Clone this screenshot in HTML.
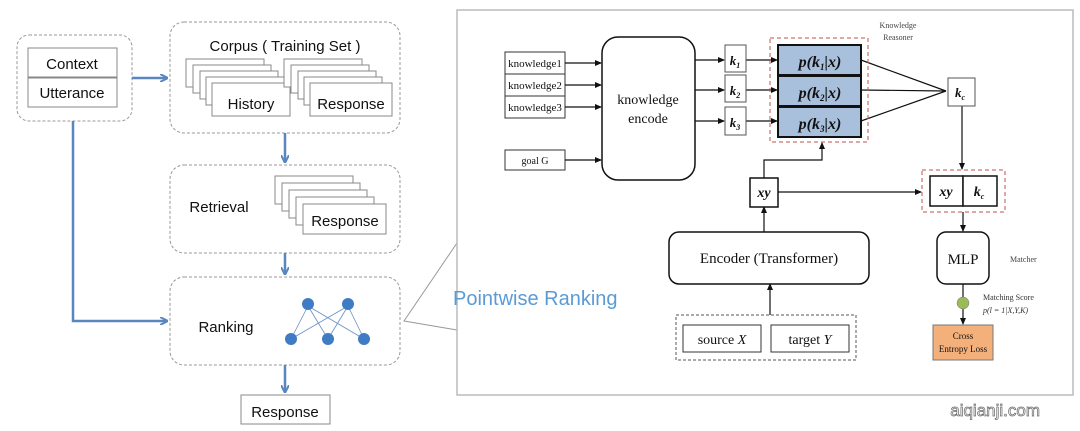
<!DOCTYPE html><html><head><meta charset="utf-8"><style>body{margin:0;background:#fff}svg{display:block}</style></head><body>
<svg width="1080" height="431" viewBox="0 0 1080 431" xmlns="http://www.w3.org/2000/svg" font-family="Liberation Sans, sans-serif">
<defs>
<marker id="ab" markerWidth="8" markerHeight="8" refX="7" refY="4" orient="auto" markerUnits="userSpaceOnUse"><path d="M0,0 L8,4 L0,8" fill="none" stroke="#5a86c0" stroke-width="2"/></marker>
<marker id="ak" markerWidth="7" markerHeight="6" refX="6" refY="3" orient="auto" markerUnits="userSpaceOnUse"><path d="M0,0 L7,3 L0,6z" fill="#111"/></marker>
</defs>
<g fill="none" stroke="#999" stroke-dasharray="3,2">
<rect x="17" y="35" width="115" height="86" rx="12"/>
<rect x="170" y="22" width="230" height="111" rx="14"/>
<rect x="170" y="165" width="230" height="88" rx="14"/>
<rect x="170" y="277" width="230" height="88" rx="14"/>
</g>
<g stroke="#888" fill="#fff" stroke-width="1">
<rect x="28" y="48" width="89" height="29"/><rect x="28" y="78" width="89" height="29"/>
<rect x="186" y="59" width="78" height="28"/><rect x="193" y="65" width="78" height="28"/><rect x="200" y="71" width="78" height="28"/><rect x="206" y="77" width="78" height="28"/><rect x="212" y="83" width="78" height="33"/>
<rect x="284" y="59" width="78" height="28"/><rect x="291" y="65" width="78" height="28"/><rect x="298" y="71" width="78" height="28"/><rect x="304" y="77" width="78" height="28"/><rect x="310" y="83" width="82" height="33"/>
<rect x="275" y="176" width="78" height="28"/><rect x="282" y="183" width="78" height="28"/><rect x="289" y="190" width="78" height="28"/><rect x="296" y="197" width="78" height="28"/><rect x="303" y="204" width="83" height="30"/>
<rect x="241" y="395" width="89" height="29"/>
</g>
<g font-size="15" fill="#111" text-anchor="middle">
<text x="72" y="69">Context</text><text x="72" y="98">Utterance</text>
<text x="285" y="51">Corpus ( Training Set )</text>
<text x="251" y="109">History</text><text x="351" y="109">Response</text>
<text x="219" y="212">Retrieval</text><text x="345" y="226">Response</text>
<text x="226" y="332">Ranking</text><text x="285" y="417">Response</text>
</g>
<g stroke="#5a86c0" stroke-width="2.5" fill="none">
<line x1="132" y1="78" x2="167" y2="78" marker-end="url(#ab)"/>
<polyline points="73,121 73,321 167,321" marker-end="url(#ab)"/>
<line x1="285" y1="133" x2="285" y2="162" marker-end="url(#ab)"/>
<line x1="285" y1="253" x2="285" y2="274" marker-end="url(#ab)"/>
<line x1="285" y1="365" x2="285" y2="392" marker-end="url(#ab)"/>
</g>
<g stroke="#6a8fc2" stroke-width="0.8"><line x1="291" y1="339" x2="308" y2="306"/><line x1="291" y1="339" x2="348" y2="306"/><line x1="328" y1="339" x2="308" y2="306"/><line x1="328" y1="339" x2="348" y2="306"/><line x1="364" y1="339" x2="308" y2="306"/><line x1="364" y1="339" x2="348" y2="306"/></g>
<g fill="#3f7cc4"><circle cx="308" cy="304" r="6"/><circle cx="348" cy="304" r="6"/><circle cx="291" cy="339" r="6"/><circle cx="328" cy="339" r="6"/><circle cx="364" cy="339" r="6"/></g>
<polyline points="457,243 404,321 457,330" fill="none" stroke="#999"/>
<rect x="457" y="10" width="616" height="385" fill="#fff" stroke="#bbb" stroke-width="1.5"/>
<text x="453" y="305" font-size="20" fill="#5b9bd5">Pointwise Ranking</text>
<g font-family="Liberation Serif, serif" fill="#111">
<g stroke="#333" fill="#fff"><rect x="505" y="52" width="60" height="22"/><rect x="505" y="74" width="60" height="22"/><rect x="505" y="96" width="60" height="22"/><rect x="505" y="150" width="60" height="20"/></g>
<g font-size="11" text-anchor="middle"><text x="535" y="67">knowledge1</text><text x="535" y="89">knowledge2</text><text x="535" y="111">knowledge3</text><text x="535" y="164" font-size="10">goal G</text></g>
<rect x="602" y="37" width="93" height="143" rx="16" fill="#fff" stroke="#111" stroke-width="1.5"/>
<text x="648" y="104" font-size="14" text-anchor="middle">knowledge</text><text x="648" y="123" font-size="14" text-anchor="middle">encode</text>
<g stroke="#111" stroke-width="1.2" fill="none">
<line x1="565" y1="63" x2="601" y2="63" marker-end="url(#ak)"/><line x1="565" y1="85" x2="601" y2="85" marker-end="url(#ak)"/><line x1="565" y1="107" x2="601" y2="107" marker-end="url(#ak)"/><line x1="565" y1="160" x2="601" y2="160" marker-end="url(#ak)"/>
<line x1="695" y1="60" x2="724" y2="60" marker-end="url(#ak)"/><line x1="695" y1="90" x2="724" y2="90" marker-end="url(#ak)"/><line x1="695" y1="121" x2="724" y2="121" marker-end="url(#ak)"/>
<line x1="746" y1="60" x2="777" y2="60" marker-end="url(#ak)"/><line x1="746" y1="90" x2="777" y2="90" marker-end="url(#ak)"/><line x1="746" y1="121" x2="777" y2="121" marker-end="url(#ak)"/>
<line x1="861" y1="60" x2="946" y2="91"/><line x1="861" y1="90" x2="946" y2="91"/><line x1="861" y1="121" x2="946" y2="91"/>
<line x1="962" y1="105" x2="962" y2="169" marker-end="url(#ak)"/>
<polyline points="764,178 764,160 822,160 822,143" marker-end="url(#ak)"/>
<line x1="778" y1="192" x2="921" y2="192" marker-end="url(#ak)"/>
<line x1="764" y1="232" x2="764" y2="207" marker-end="url(#ak)"/>
<line x1="770" y1="315" x2="770" y2="284" marker-end="url(#ak)"/>
<line x1="963" y1="212" x2="963" y2="231" marker-end="url(#ak)"/>
<line x1="963" y1="284" x2="963" y2="324" marker-end="url(#ak)"/>
</g>
<g stroke="#555" fill="#fff"><rect x="725" y="45" width="21" height="27"/><rect x="725" y="75" width="21" height="27"/><rect x="725" y="107" width="21" height="28"/><rect x="948" y="78" width="27" height="28"/></g>
<g font-size="13" font-weight="bold" font-style="italic" text-anchor="middle"><text x="735" y="65">k<tspan font-size="8" dy="3">1</tspan></text><text x="735" y="95">k<tspan font-size="8" dy="3">2</tspan></text><text x="735" y="127">k<tspan font-size="8" dy="3">3</tspan></text><text x="960" y="97">k<tspan font-size="8" dy="3">c</tspan></text></g>
<rect x="770" y="38" width="98" height="104" fill="none" stroke="#c0504d" stroke-dasharray="4,3"/>
<g fill="#a9c0dd" stroke="#111" stroke-width="2"><rect x="778" y="45" width="83" height="30"/><rect x="778" y="76" width="83" height="30"/><rect x="778" y="107" width="83" height="30"/></g>
<g font-size="16" font-weight="bold" font-style="italic" text-anchor="middle"><text x="820" y="67">p(k<tspan font-size="9" dy="3">1</tspan><tspan dy="-3">|x)</tspan></text><text x="820" y="98">p(k<tspan font-size="9" dy="3">2</tspan><tspan dy="-3">|x)</tspan></text><text x="820" y="129">p(k<tspan font-size="9" dy="3">3</tspan><tspan dy="-3">|x)</tspan></text></g>
<text x="898" y="28" font-size="8" text-anchor="middle" fill="#444">Knowledge</text><text x="898" y="40" font-size="8" text-anchor="middle" fill="#444">Reasoner</text>
<rect x="922" y="170" width="83" height="42" fill="none" stroke="#c0504d" stroke-dasharray="4,3"/>
<g fill="#fff" stroke="#111" stroke-width="1.5"><rect x="930" y="176" width="33" height="30"/><rect x="963" y="176" width="34" height="30"/><rect x="750" y="178" width="28" height="29"/></g>
<g font-size="14" font-weight="bold" font-style="italic" text-anchor="middle"><text x="946" y="196">xy</text><text x="979" y="196">k<tspan font-size="8" dy="3">c</tspan></text><text x="764" y="197">xy</text></g>
<rect x="669" y="232" width="200" height="52" rx="10" fill="#fff" stroke="#111" stroke-width="1.5"/>
<text x="769" y="263" font-size="15" text-anchor="middle">Encoder (Transformer)</text>
<rect x="676" y="315" width="180" height="45" fill="none" stroke="#555" stroke-dasharray="3,2"/>
<g fill="#fff" stroke="#333"><rect x="683" y="325" width="78" height="27"/><rect x="771" y="325" width="78" height="27"/></g>
<text x="722" y="344" font-size="14" text-anchor="middle">source <tspan font-style="italic">X</tspan></text><text x="810" y="344" font-size="14" text-anchor="middle">target <tspan font-style="italic">Y</tspan></text>
<rect x="937" y="232" width="52" height="52" rx="9" fill="#fff" stroke="#111" stroke-width="1.5"/>
<text x="963" y="264" font-size="15" text-anchor="middle">MLP</text>
<text x="1010" y="262" font-size="8" fill="#444">Matcher</text>
<circle cx="963" cy="303" r="6" fill="#9bbb59" stroke="#777" stroke-width="0.5"/>
<text x="983" y="300" font-size="8" fill="#333">Matching Score</text><text x="983" y="313" font-size="8" font-style="italic" fill="#333">p(l = 1|X,Y,K)</text>
<rect x="933" y="325" width="60" height="35" fill="#f4b07b" stroke="#777"/>
<text x="963" y="339" font-size="9" text-anchor="middle">Cross</text><text x="963" y="352" font-size="9" text-anchor="middle">Entropy Loss</text>
</g>
<text x="1040" y="416" font-size="17" text-anchor="end" fill="#fff" stroke="#666" stroke-width="0.7">aiqianji.com</text>
</svg></body></html>
